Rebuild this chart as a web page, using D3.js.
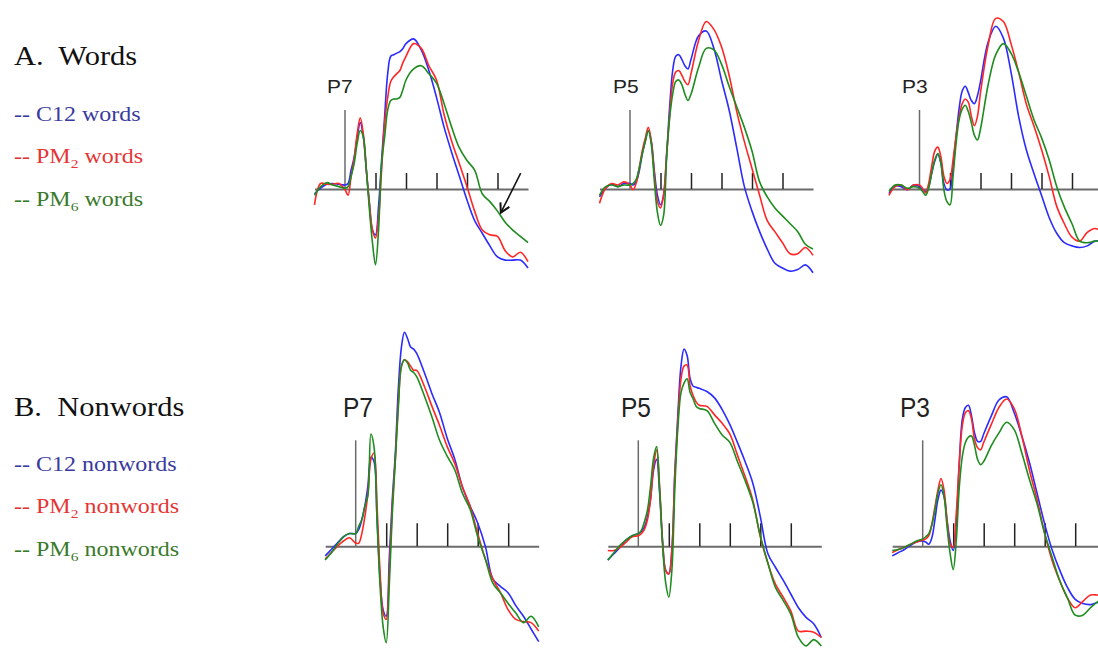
<!DOCTYPE html>
<html><head><meta charset="utf-8">
<script src="https://cdn.jsdelivr.net/npm/d3@7"></script>
<style>body{margin:0;background:#fff}svg{display:block}</style>
</head><body><svg id="chart" width="1098" height="648"></svg>
<script>
// ---- data ----
const times = [-100,-80,-60,-40,-20,0,10,20,30,40,50,60,70,80,90,100,110,120,130,140,150,160,170,180,190,200,225,250,275,300,325,350,375,400,425,450,475,500,525,550,575,600];
const electrodes = ["P7","P5","P3"];
const tickTimes = [100,200,300,400,500];
const groupLabels = ["C12","PM","PM"];
const groupSubs = ["","2","6"];
const rowTitles = ["A.\u00a0 Words","B.\u00a0 Nonwords"];
const rowNouns = ["words","nonwords"];

// Words (µV)
const wordsP7C12 = [-0.3,0.05,0.3,0.35,0.3,0.25, 0.35,1.2,2.0,3.3,4.2,3.3,1.2,-0.9,-2.6,-2.9,-1.1,1.8,4.6,7.3,8.4,8.5,8.6,8.7,8.9,9.2, 9.5,8.8,7.5,5.8,3.9,2.3,0.8,-0.7,-2.0,-2.8,-3.6,-4.3,-4.5,-4.5,-4.5,-5.0];
const wordsP7PM2 = [-1.0,0.35,0.3,0.3,0.35,-0.05, -0.4,0.8,1.9,3.5,4.5,3.5,1.2,-0.9,-2.6,-3.1,-1.8,1.2,4.2,5.8,6.8,7.1,7.3,7.5,8.0,8.4, 9.2,8.9,7.8,6.9,4.7,3.0,1.6,0.15,-1.4,-2.6,-2.9,-3.0,-3.9,-4.3,-4.0,-4.6];
const wordsP7PM6 = [-0.4,0.15,0.4,0.25,0.15,0.05, 0.15,0.8,1.6,2.9,3.7,3.3,1.2,-1.3,-3.4,-4.8,-2.6,1.6,3.3,5.0,5.6,5.7,5.7,5.8,6.3,6.9, 7.6,7.8,7.3,6.7,5.4,3.9,2.6,1.8,1.2,-0.3,-0.8,-1.4,-2.1,-2.6,-3.0,-3.4];
const wordsP5C12 = [-0.5,0.05,0.3,0.15,0.35,0.35, 0.25,0.45,1.1,2.2,3.0,3.7,3.0,1.1,-0.4,-1.0,-0.4,2.1,5.2,7.5,8.4,8.5,8.2,7.8,7.6,8.2, 9.7,10.0,8.9,6.9,5.0,2.6,0.15,-1.4,-2.7,-3.8,-4.7,-5.0,-5.2,-5.1,-4.8,-5.3];
const wordsP5PM2 = [-0.9,0.05,0.35,0.25,0.45,0.25, -0.05,0.35,1.3,2.4,3.2,3.9,3.0,0.9,-0.8,-1.2,-0.4,2.2,4.7,6.7,7.4,7.5,7.2,6.8,6.6,7.3, 9.4,10.6,10.1,9.0,7.2,4.9,3.0,1.3,-0.4,-2.0,-2.7,-3.4,-4.1,-4.1,-3.7,-4.2];
const wordsP5PM6 = [-0.4,0.15,0.25,0.15,0.25,0.25, 0.35,0.6,1.3,2.2,3.0,3.7,2.8,0.45,-1.5,-2.3,-1.7,2.0,4.5,6.0,6.8,6.9,6.6,6.0,5.6,6.0, 7.7,8.9,8.8,7.9,6.5,5.2,3.9,2.4,0.45,-0.5,-1.2,-1.7,-2.2,-2.7,-3.5,-3.8];
const wordsP3C12 = [-0.3,0.2,0.15,-0.05,0.25,0.15, -0.05,-0.15,0.15,1.0,1.75,2.2,1.65,0.35,-0.05,0.0,1.5,3.35,5.1,6.2,6.5,6.1,5.6,5.4,5.9,6.8, 9.3,10.3,9.55,7.4,4.6,2.5,1.0,-0.4,-1.8,-2.8,-3.4,-3.6,-3.7,-3.6,-3.3,-3.3];
const wordsP3PM2 = [-0.4,0.15,0.25,-0.05,0.25,0.25, 0.05,-0.25,0.35,1.45,2.4,2.65,2.05,0.8,0.35,0.6,1.85,3.35,4.6,5.4,5.7,5.5,4.6,4.0,4.6,6.1, 9.1,10.8,10.6,9.2,7.4,5.4,4.0,2.5,0.8,-1.1,-2.2,-3.05,-3.3,-2.75,-2.5,-2.75];
const wordsP3PM6 = [-0.15,0.25,0.25,0.05,0.15,0.05, -0.15,-0.4,0.05,1.0,1.85,2.25,1.65,-0.05,-0.8,-1.0,0.8,2.9,4.4,5.05,5.3,4.9,4.2,3.4,3.1,3.8, 6.6,8.5,9.2,8.6,7.4,5.9,4.4,3.25,1.85,0.15,-1.15,-2.2,-3.3,-3.4,-3.3,-3.3];

// Nonwords (µV)
const nonwordsP7C12 = [-0.45,-0.15,0.15,0.45,0.6,0.6, 0.8,1.25,1.9,2.85,4.2,4.0,1.25,-1.55,-3.0,-3.3,-0.6,2.2,4.4,7.5,9.4,10.1,9.8,9.4,9.3,9.1, 8.2,7.2,6.3,5.1,4.1,2.8,1.9,1.1,0.0,-1.55,-1.9,-2.2,-2.8,-3.3,-3.9,-4.5];
const nonwordsP7PM2 = [-0.6,-0.3,0.0,0.25,0.4,0.15, 0.15,0.6,1.4,2.5,4.1,4.4,1.9,-1.25,-3.15,-3.45,-1.25,1.9,4.1,6.8,8.5,8.8,8.7,8.5,8.3,8.3, 7.55,6.6,5.7,4.7,3.9,2.8,1.9,0.6,-0.6,-1.55,-2.2,-3.0,-3.45,-3.55,-3.6,-4.0];
const nonwordsP7PM6 = [-0.65,-0.3,0.1,0.45,0.6,0.6, 0.95,1.25,1.9,2.4,5.3,4.7,1.25,-1.9,-3.8,-4.55,-1.9,1.55,4.1,6.6,8.5,8.8,8.65,8.3,8.2,8.0, 7.1,6.1,5.0,4.25,3.6,2.5,1.75,0.45,-0.6,-1.75,-2.2,-2.7,-3.15,-3.6,-3.3,-3.8];
const nonwordsP5C12 = [-0.65,-0.35,-0.05,0.3,0.5,0.6, 0.7,0.9,1.4,2.2,3.6,4.1,2.5,0.15,-1.15,-1.3,-0.2,3.6,6.3,8.5,9.3,9.0,7.9,7.55,7.5,7.45, 7.3,7.0,6.45,5.75,4.9,4.0,3.0,1.4,-0.35,-1.0,-1.6,-2.25,-2.9,-3.35,-3.65,-4.3];
const nonwordsP5PM2 = [-0.2,-0.2,-0.05,0.2,0.45,0.5, 0.6,0.8,1.25,2.2,3.75,4.55,2.8,0.15,-1.15,-1.3,-0.2,3.45,6.0,7.9,8.5,8.55,7.55,7.1,6.8,6.65, 6.6,6.2,5.8,5.3,4.3,3.3,2.2,0.45,-0.8,-1.8,-2.4,-3.05,-4.0,-4.0,-4.05,-4.3];
const nonwordsP5PM6 = [-0.65,-0.3,0.05,0.3,0.5,0.6, 0.75,1.15,1.7,2.8,4.15,4.7,2.65,-0.05,-1.75,-2.4,-1.15,2.8,5.65,7.25,7.7,7.9,7.25,6.95,6.6,6.5, 6.4,5.8,5.25,4.9,4.0,3.1,2.1,0.5,-0.8,-1.95,-2.55,-3.2,-4.3,-4.7,-4.4,-4.7];
const nonwordsP3C12 = [-0.45,-0.3,-0.15,0.05,0.2,0.25, 0.2,0.1,0.4,1.25,2.2,2.65,2.35,1.2,0.25,-0.2,1.05,3.95,6.0,6.55,6.65,6.15,5.35,4.95,4.95,5.3, 6.15,6.9,7.05,6.3,5.2,3.95,2.5,1.05,-0.2,-1.15,-1.95,-2.5,-2.7,-2.75,-2.65,-2.65];
const nonwordsP3PM2 = [-0.3,-0.15,-0.05,0.1,0.2,0.3, 0.35,0.5,1.05,1.85,2.65,3.2,2.65,1.2,0.1,-0.05,1.55,3.95,5.7,6.3,6.4,6.0,5.05,4.65,4.55,4.9, 5.75,6.55,6.95,6.5,5.2,3.6,2.2,0.6,-0.7,-1.65,-2.45,-2.9,-2.6,-2.3,-2.3,-2.3];
const nonwordsP3PM6 = [-0.2,-0.15,-0.05,0.1,0.25,0.35, 0.45,0.6,1.0,1.7,2.5,2.9,2.35,0.9,-0.35,-1.1,0.25,2.8,4.25,4.9,5.15,5.2,4.75,4.1,3.85,4.0, 4.75,5.35,5.85,5.5,4.4,3.15,2.0,0.6,-0.55,-1.65,-2.45,-3.25,-3.25,-2.9,-2.6,-2.45];

const rowSeries = [
  [[wordsP7C12,wordsP7PM2,wordsP7PM6],[wordsP5C12,wordsP5PM2,wordsP5PM6],[wordsP3C12,wordsP3PM2,wordsP3PM6]],
  [[nonwordsP7C12,nonwordsP7PM2,nonwordsP7PM6],[nonwordsP5C12,nonwordsP5PM2,nonwordsP5PM6],[nonwordsP3C12,nonwordsP3PM2,nonwordsP3PM6]]
];

// ---- layout / style ----
const lineColors = ["#2b2bff","#ff2626","#1e8c1e"];
const textColors = ["#3a3a9e","#e43636","#3a7a2c"];
const layout = [
  {axisY:189, barLen:79, tickLen:16, x0:[345,630,919.5], labelDx:[-18,-17,-17.5], labelY:93, labelSize:21, labelSy:0.89, titleY:65, legendY:[121,163,206]},
  {axisY:546.3, barLen:106, tickLen:23, x0:[355.7,638.3,922.7], labelDx:[-12.7,-17.3,-22.7], labelY:417, labelSize:24.5, labelSy:1.14, titleY:416, legendY:[471,513,556]}
];
const pxPerMs = 0.305;

const svg = d3.select("#chart");
svg.append("rect").attr("width",1098).attr("height",648).attr("fill","#fff");

svg.append("defs").append("marker")
  .attr("id","arrowhead").attr("markerUnits","userSpaceOnUse")
  .attr("viewBox","0 0 12 12").attr("refX",10).attr("refY",6)
  .attr("markerWidth",12).attr("markerHeight",12).attr("orient","auto")
  .append("path").attr("d","M1,1 L10,6 L1,11").attr("fill","none")
  .attr("stroke","#111").attr("stroke-width",2);

layout.forEach((L, r) => {
  // row title
  svg.append("g").attr("transform",`translate(14,${L.titleY}) scale(1.13,1)`)
    .append("text").attr("font-family","'Liberation Serif','Times New Roman',serif")
    .attr("font-size",27).attr("fill","#111").text(rowTitles[r]);
  // legend
  groupLabels.forEach((gl, k) => {
    const t = svg.append("g").attr("transform",`translate(14,${L.legendY[k]}) scale(1.2,1)`)
      .append("text").attr("font-family","'Liberation Serif','Times New Roman',serif")
      .attr("font-size",20).attr("fill",textColors[k]);
    t.append("tspan").text("-- " + gl);
    if (groupSubs[k]) {
      t.append("tspan").attr("dy",5).attr("font-size",13).text(groupSubs[k]);
      t.append("tspan").attr("dy",-5).text(" " + rowNouns[r]);
    } else {
      t.append("tspan").text(" " + rowNouns[r]);
    }
  });

  electrodes.forEach((el, c) => {
    const x0 = L.x0[c];
    const x = d3.scaleLinear().domain([-100,600]).range([x0 - 100*pxPerMs, x0 + 600*pxPerMs]);
    const y = d3.scaleLinear().domain([0,5]).range([L.axisY, L.axisY - L.barLen]);
    const g = svg.append("g");

    const axis = d3.axisTop(x).tickValues(tickTimes).tickSize(L.tickLen).tickSizeOuter(0).tickFormat("");
    const ag = g.append("g").attr("transform",`translate(0,${L.axisY})`).call(axis);
    ag.select(".domain").attr("stroke","#6b6b6b").attr("stroke-width",2);
    ag.selectAll(".tick line").attr("stroke","#222").attr("stroke-width",1.5);

    g.append("line").attr("x1",x(0)).attr("x2",x(0)).attr("y1",y(0)).attr("y2",y(5))
      .attr("stroke","#6b6b6b").attr("stroke-width",1.5);

    g.append("g").attr("transform",`translate(${x0 + L.labelDx[c]},${L.labelY}) scale(1,${L.labelSy})`)
      .append("text").attr("font-family","'Liberation Sans',Arial,sans-serif")
      .attr("font-size",L.labelSize).attr("fill","#222").text(el);

    const line = d3.line().x((d,i) => x(times[i])).y(d => y(d)).curve(d3.curveCatmullRom.alpha(0.5));
    rowSeries[r][c].forEach((vals, k) => {
      g.append("path").datum(vals).attr("d", line).attr("fill","none")
        .attr("stroke", lineColors[k]).attr("stroke-width",1.6).attr("stroke-linejoin","round");
    });

    if (r === 0 && c === 0) {
      g.append("line").attr("x1",x(576)).attr("y1",y(1.0)).attr("x2",x(511)).attr("y2",y(-1.5))
        .attr("stroke","#111").attr("stroke-width",1.5).attr("marker-end","url(#arrowhead)");
    }
  });
});
</script>
</body></html>
